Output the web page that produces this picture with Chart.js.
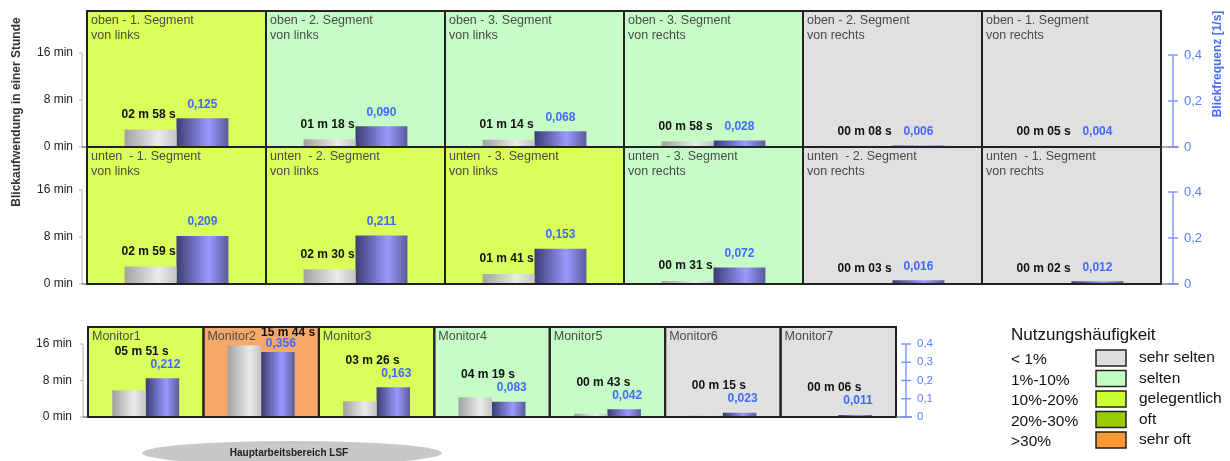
<!DOCTYPE html>
<html lang="de">
<head>
<meta charset="utf-8">
<title>Blickaufwendung und Blickfrequenz</title>
<script src="https://cdn.jsdelivr.net/npm/chart.js@4.4.1/dist/chart.umd.min.js"></script>
<style>
  html, body { margin: 0; padding: 0; background: #fff; }
  #wrap { position: relative; width: 1230px; height: 461px; overflow: hidden; }
  canvas { position: absolute; left: 0; }
</style>
</head>
<body>
<div id="wrap">
  <canvas id="oben" width="1230" height="290" style="top:0px"></canvas>
  <canvas id="unten" width="1230" height="150" style="top:140px"></canvas>
  <canvas id="monitore" width="1230" height="151" style="top:310px"></canvas>
</div>
<script>
const FONT = "'Liberation Sans', Arial, sans-serif";

// obere Reihe
const obenLabels = [
  ['oben - 1. Segment', 'von links'], ['oben - 2. Segment', 'von links'], ['oben - 3. Segment', 'von links'],
  ['oben - 3. Segment', 'von rechts'], ['oben - 2. Segment', 'von rechts'], ['oben - 1. Segment', 'von rechts']
];
const obenSekunden = [178, 78, 74, 58, 8, 5];
const obenFrequenz = [0.125, 0.090, 0.068, 0.028, 0.006, 0.004];
const obenNutzung = ['gelegentlich', 'selten', 'selten', 'selten', 'sehr selten', 'sehr selten'];

// untere Reihe
const untenLabels = [
  ['unten  - 1. Segment', 'von links'], ['unten  - 2. Segment', 'von links'], ['unten  - 3. Segment', 'von links'],
  ['unten  - 3. Segment', 'von rechts'], ['unten  - 2. Segment', 'von rechts'], ['unten  - 1. Segment', 'von rechts']
];
const untenSekunden = [179, 150, 101, 31, 3, 2];
const untenFrequenz = [0.209, 0.211, 0.153, 0.072, 0.016, 0.012];
const untenNutzung = ['gelegentlich', 'gelegentlich', 'gelegentlich', 'selten', 'sehr selten', 'sehr selten'];

// Monitore
const monitorLabels = ['Monitor1', 'Monitor2', 'Monitor3', 'Monitor4', 'Monitor5', 'Monitor6', 'Monitor7'];
const monitorSekunden = [351, 944, 206, 259, 43, 15, 6];
const monitorFrequenz = [0.212, 0.356, 0.163, 0.083, 0.042, 0.023, 0.011];
const monitorNutzung = ['gelegentlich', 'sehr oft', 'gelegentlich', 'selten', 'selten', 'sehr selten', 'sehr selten'];

// Legende
const legendBereiche = ['< 1%', '1%-10%', '10%-20%', '20%-30%', '>30%'];
const legendStufen = ['sehr selten', 'selten', 'gelegentlich', 'oft', 'sehr oft'];
const legendFarben = ['#dddddd', '#c3ffc3', '#ccff33', '#99cc00', '#ff9933'];
const panelFarben = ['#e0e0e0', '#c6fdc6', '#daff5a', '#99cc00', '#f6a86b'];

// Achsenticks
const minutenTicks = [0, 480, 960]; // Sekunden
const freqTicksSegment = [0, 0.2, 0.4];
const freqTicksMonitor = [0, 0.1, 0.2, 0.3, 0.4];

const grauStops = [[0, '#a2a2a2'], [0.65, '#ebebeb'], [1, '#c4c4c4']];
const blauStops = [[0, '#3c3c74'], [0.62, '#9a9aff'], [1, '#5a5a9c']];

const zeit = s => String(Math.floor(s / 60)).padStart(2, '0') + ' m ' + String(s % 60).padStart(2, '0') + ' s';
const freqText = v => v.toFixed(3).replace('.', ',');
const tickText = v => v === 0 ? '0' : String(v).replace('.', ',');

function verlauf(c, stops) {
  const el = c.element;
  if (!el || !isFinite(el.x) || !isFinite(el.width)) return stops[1][1];
  const g = c.chart.ctx.createLinearGradient(el.x - el.width / 2, 0, el.x + el.width / 2, 0);
  stops.forEach(([p, col]) => g.addColorStop(p, col));
  return g;
}

function linie(ctx, x1, y1, x2, y2) {
  ctx.beginPath();
  ctx.moveTo(x1, y1);
  ctx.lineTo(x2, y2);
  ctx.stroke();
}

// feste Achsbreite, keine Zusatzabstaende oben/unten
const festeBreite = w => s => {
  s.width = w;
  s.paddingTop = 0;
  s.paddingBottom = 0;
};

const TITEL_FONT = '12.5px ' + FONT;
const WERT_FONT = 'bold 12px ' + FONT;

function panelPlugin(cfg) {
  return {
    id: 'panels',
    beforeDatasetsDraw(chart) {
      const { ctx, chartArea: a } = chart;
      const w = (a.right - a.left) / cfg.labels.length;
      ctx.save();
      cfg.nutzung.forEach((stufe, i) => {
        ctx.fillStyle = panelFarben[legendStufen.indexOf(stufe)];
        ctx.fillRect(a.left + i * w, a.top, w, a.bottom - a.top);
      });
      ctx.fillStyle = '#4a4a4a';
      ctx.font = TITEL_FONT;
      ctx.textAlign = 'left';
      ctx.textBaseline = 'middle';
      cfg.labels.forEach((lab, i) => {
        [].concat(lab).forEach((zeile, k) => ctx.fillText(zeile, a.left + i * w + 4, a.top + 10 + k * 15));
      });
      ctx.restore();
    },
    afterDatasetsDraw(chart) {
      const { ctx, chartArea: a } = chart;
      const yS = chart.scales.y, yF = chart.scales.y1;
      const w = (a.right - a.left) / cfg.labels.length;
      ctx.save();

      // Rahmen
      ctx.strokeStyle = '#222';
      ctx.lineWidth = 2;
      cfg.labels.forEach((_, i) => ctx.strokeRect(a.left + i * w, a.top, w, a.bottom - a.top));

      // linke Achse
      const xl = a.left - 5;
      ctx.lineWidth = 1;
      ctx.strokeStyle = '#b4b4b4';
      linie(ctx, xl, yS.getPixelForValue(minutenTicks[minutenTicks.length - 1]), xl, yS.getPixelForValue(0));
      minutenTicks.forEach(v => linie(ctx, xl - 3, yS.getPixelForValue(v), xl, yS.getPixelForValue(v)));
      ctx.strokeStyle = '#444';
      linie(ctx, xl, a.bottom, a.left, a.bottom);

      // rechte Achse
      const xr = a.right + cfg.rechtsAbstand;
      ctx.strokeStyle = '#555';
      linie(ctx, a.right, a.bottom, xr + 6, a.bottom);
      ctx.strokeStyle = '#6f8cff';
      ctx.lineWidth = 1.3;
      linie(ctx, xr, yF.getPixelForValue(cfg.freqTicks[cfg.freqTicks.length - 1]), xr, yF.getPixelForValue(0));
      cfg.freqTicks.forEach(v => linie(ctx, xr - 5, yF.getPixelForValue(v), xr + 5, yF.getPixelForValue(v)));

      // Werte
      const grau = chart.getDatasetMeta(0).data, blau = chart.getDatasetMeta(1).data;
      ctx.textAlign = 'center';
      ctx.textBaseline = 'middle';
      cfg.sekunden.forEach((s, i) => {
        const g = grau[i], b = blau[i];
        ctx.font = WERT_FONT;
        if (cfg.modus === 'monitor') {
          let y = Math.min(g.y - 14, b.y - 27);
          let x = (g.x + b.x) / 2 - 4;
          let yBlau = b.y - 14;
          if (y < a.top + 18) {
            // stoesst an den Titel: rechts neben den Titel setzen
            y = a.top + 6;
            const breite = ctx.measureText(zeit(s)).width;
            ctx.font = TITEL_FONT;
            const titelEnde = a.left + i * w + 4 + ctx.measureText(cfg.labels[i]).width;
            ctx.font = WERT_FONT;
            x = titelEnde + 5 + breite / 2;
            yBlau = Math.max(yBlau, y + 11);
          }
          ctx.fillStyle = '#4169ff';
          ctx.fillText(freqText(cfg.frequenz[i]), b.x + 3, yBlau);
          ctx.fillStyle = '#111';
          ctx.fillText(zeit(s), x, y);
        } else {
          ctx.fillStyle = '#4169ff';
          ctx.fillText(freqText(cfg.frequenz[i]), b.x, b.y - 14);
          ctx.fillStyle = '#111';
          ctx.fillText(zeit(s), g.x - 2, g.y - 15);
        }
      });
      ctx.restore();
    },
    afterDraw(chart) {
      if (cfg.extras) cfg.extras(chart.ctx);
    }
  };
}

function zeileChart(id, cfg) {
  const chart = new Chart(document.getElementById(id), {
    type: 'bar',
    data: {
      labels: cfg.labels,
      datasets: [
        { label: 'Blickaufwendung', data: cfg.sekunden, yAxisID: 'y', backgroundColor: c => verlauf(c, grauStops),
          categoryPercentage: 0.58, barPercentage: 1, borderWidth: 0 },
        { label: 'Blickfrequenz', data: cfg.frequenz, yAxisID: 'y1', backgroundColor: c => verlauf(c, blauStops),
          categoryPercentage: 0.58, barPercentage: 1, borderWidth: 0 }
      ]
    },
    options: {
      responsive: false,
      animation: false,
      devicePixelRatio: 1,
      layout: { padding: cfg.padding },
      plugins: { legend: { display: false }, tooltip: { enabled: false } },
      scales: {
        x: { display: false },
        y: {
          position: 'left', min: 0, max: cfg.yMax,
          afterBuildTicks: s => { s.ticks = minutenTicks.map(v => ({ value: v })); },
          afterFit: festeBreite(cfg.linksBreite),
          ticks: { callback: v => (v / 60) + ' min', color: '#222', font: { family: FONT, size: 12 }, padding: cfg.linksPadding },
          grid: { display: false, drawTicks: false },
          border: { display: false }
        },
        y1: {
          position: 'right', min: 0, max: cfg.y1Max,
          afterBuildTicks: s => { s.ticks = cfg.freqTicks.map(v => ({ value: v })); },
          afterFit: festeBreite(cfg.rechtsBreite),
          ticks: { callback: tickText, color: '#5b7fff', font: { family: FONT, size: cfg.rechtsFont }, padding: cfg.rechtsPadding },
          grid: { display: false, drawTicks: false },
          border: { display: false }
        }
      }
    },
    plugins: [panelPlugin(cfg)]
  });
  chart.update();
  return chart;
}

zeileChart('oben', {
  labels: obenLabels, sekunden: obenSekunden, frequenz: obenFrequenz, nutzung: obenNutzung,
  padding: { top: 11, bottom: 143, left: 0, right: 0 },
  yMax: 960 * 136 / 94, y1Max: 0.4 * 136 / 92, freqTicks: freqTicksSegment,
  linksBreite: 87, linksPadding: 14, rechtsBreite: 69, rechtsPadding: 23, rechtsFont: 13, rechtsAbstand: 12,
  extras(ctx) {
    ctx.save();
    ctx.font = 'bold 12px ' + FONT;
    ctx.textAlign = 'center';
    ctx.textBaseline = 'middle';
    ctx.fillStyle = '#333';
    ctx.translate(17, 112);
    ctx.rotate(-Math.PI / 2);
    ctx.fillText('Blickaufwendung in einer Stunde', 0, 0);
    ctx.restore();
    ctx.save();
    ctx.font = 'bold 12px ' + FONT;
    ctx.textAlign = 'center';
    ctx.textBaseline = 'middle';
    ctx.fillStyle = '#4a6cff';
    ctx.translate(1218, 64);
    ctx.rotate(-Math.PI / 2);
    ctx.fillText('Blickfrequenz [1/s]', 0, 0);
    ctx.restore();
  }
});

zeileChart('unten', {
  labels: untenLabels, sekunden: untenSekunden, frequenz: untenFrequenz, nutzung: untenNutzung,
  padding: { top: 7, bottom: 6, left: 0, right: 0 },
  yMax: 960 * 137 / 94, y1Max: 0.4 * 137 / 92, freqTicks: freqTicksSegment,
  linksBreite: 87, linksPadding: 14, rechtsBreite: 69, rechtsPadding: 23, rechtsFont: 13, rechtsAbstand: 12
});

zeileChart('monitore', {
  labels: monitorLabels, sekunden: monitorSekunden, frequenz: monitorFrequenz, nutzung: monitorNutzung,
  modus: 'monitor',
  padding: { top: 17, bottom: 44, left: 0, right: 0 },
  yMax: 960 * 90 / 73, y1Max: 0.4 * 90 / 73, freqTicks: freqTicksMonitor,
  linksBreite: 88, linksPadding: 16, rechtsBreite: 334, rechtsPadding: 21, rechtsFont: 11.5, rechtsAbstand: 10,
  extras(ctx) {
    ctx.save();
    // Hauptarbeitsbereich
    ctx.fillStyle = '#c8c8c8';
    ctx.beginPath();
    ctx.ellipse(292, 143, 150, 12, 0, 0, Math.PI * 2);
    ctx.fill();
    ctx.fillStyle = '#222';
    ctx.font = 'bold 10px ' + FONT;
    ctx.textAlign = 'center';
    ctx.textBaseline = 'middle';
    ctx.fillText('Hauptarbeitsbereich LSF', 289, 143);

    // Legende Nutzungshäufigkeit
    ctx.textAlign = 'left';
    ctx.fillStyle = '#111';
    ctx.font = '17px ' + FONT;
    ctx.fillText('Nutzungshäufigkeit', 1011, 25);
    ctx.font = '15.5px ' + FONT;
    legendStufen.forEach((stufe, k) => {
      const y = 48 + k * 20.5;
      ctx.fillStyle = '#111';
      ctx.fillText(legendBereiche[k], 1011, y + 2);
      ctx.fillText(stufe, 1139, y);
      ctx.fillStyle = legendFarben[k];
      ctx.fillRect(1096, y - 8, 30, 16);
      ctx.strokeStyle = '#222';
      ctx.lineWidth = 1.5;
      ctx.strokeRect(1096, y - 8, 30, 16);
    });
    ctx.restore();
  }
});
</script>
</body>
</html>
